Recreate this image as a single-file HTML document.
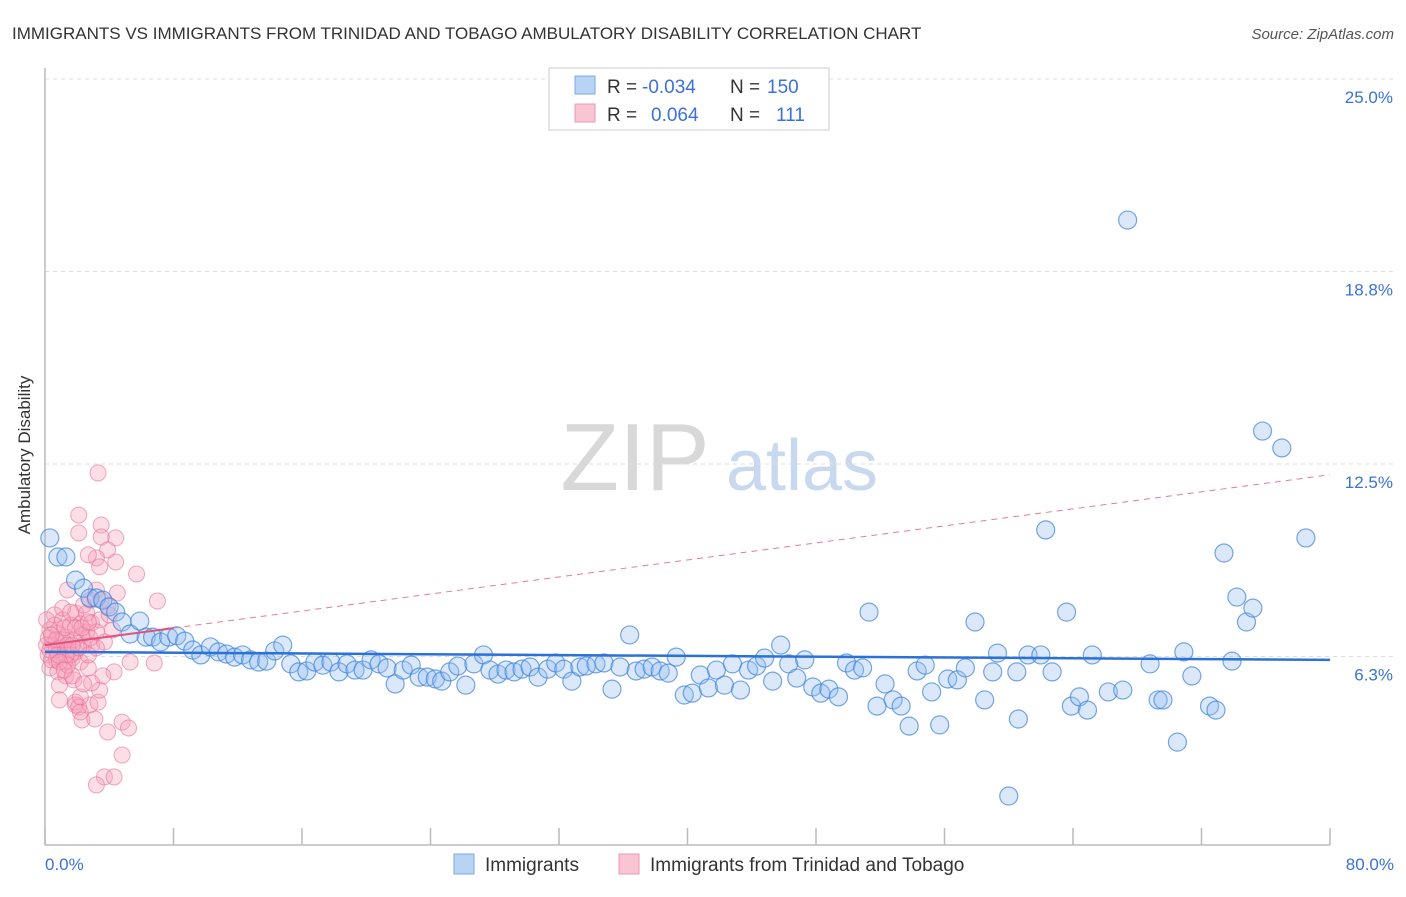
<!DOCTYPE html>
<html><head><meta charset="utf-8"><style>
body{margin:0;background:#fff;font-family:"Liberation Sans",sans-serif;}
svg text{font-family:"Liberation Sans",sans-serif;}
</style></head><body>
<svg id="chart" width="1406" height="892" viewBox="0 0 1406 892">
<text x="12" y="39" font-size="17" fill="#333">IMMIGRANTS VS IMMIGRANTS FROM TRINIDAD AND TOBAGO AMBULATORY DISABILITY CORRELATION CHART</text>
<text x="1394" y="39" font-size="15" fill="#555" font-style="italic" text-anchor="end">Source: ZipAtlas.com</text>
<g>
<text x="635" y="490" font-size="96" fill="#d8d8d8" text-anchor="middle" font-family="Liberation Serif, serif">ZIP</text>
<text x="802" y="490" font-size="72" fill="#c8d8ee" text-anchor="middle">atlas</text>
</g>
<g id="grid"></g>
<line x1="45" y1="68" x2="45" y2="845" stroke="#bbb" stroke-width="1.5"/>
<line x1="45" y1="845" x2="1330" y2="845" stroke="#bbb" stroke-width="1.5"/>
<g id="xticks"></g>
<text x="30" y="455" font-size="17" fill="#333" text-anchor="middle" transform="rotate(-90 30 455)">Ambulatory Disability</text>
<text x="45" y="870" font-size="17" fill="#3a72d8">0.0%</text>
<text x="1394" y="870" font-size="17" fill="#3a72d8" text-anchor="end">80.0%</text>
<g id="pink"></g>
<g id="blue"></g>
<g id="trends"></g>
<g>
<rect x="549" y="68" width="280" height="62" fill="#fff" stroke="#ccc"/>
<rect x="575" y="76" width="20" height="18" fill="#b9d3f5" stroke="#7aa7e6"/>
<rect x="575" y="104" width="20" height="18" fill="#f9c4d3" stroke="#ef95b0"/>
<text x="607" y="93" font-size="19" fill="#333">R =</text>
<text x="642" y="93" font-size="19" fill="#3a72d8">-0.034</text>
<text x="730" y="93" font-size="19" fill="#333">N =</text>
<text x="767" y="93" font-size="19" fill="#3a72d8">150</text>
<text x="607" y="121" font-size="19" fill="#333">R =</text>
<text x="651" y="121" font-size="19" fill="#3a72d8">0.064</text>
<text x="730" y="121" font-size="19" fill="#333">N =</text>
<text x="776" y="121" font-size="19" fill="#3a72d8">111</text>
</g>
<g>
<rect x="454" y="854" width="20" height="20" fill="#b9d3f5" stroke="#7aa7e6"/>
<text x="485" y="871" font-size="19" fill="#333">Immigrants</text>
<rect x="619" y="854" width="20" height="20" fill="#f9c4d3" stroke="#ef95b0"/>
<text x="650" y="871" font-size="19" fill="#333">Immigrants from Trinidad and Tobago</text>
</g>
</svg>
<script>
const yTicks=[25.0,18.75,12.5,6.25];
const yTickLabels=["25.0%","18.8%","12.5%","6.3%"];
const xTicks=[0,8,16,24,32,40,48,56,64,72,80];
const blueX=[0.3,0.8,1.3,1.9,2.4,2.8,3.2,3.6,4.0,4.4,4.8,5.3,5.9,6.3,6.7,7.2,7.7,8.2,8.7,9.2,9.7,10.3,10.8,11.3,11.8,12.3,12.8,13.3,13.8,14.3,14.8,15.3,15.8,16.3,16.8,17.3,17.8,18.3,18.8,19.3,19.8,20.3,20.8,21.3,21.8,22.3,22.8,23.3,23.8,24.3,24.7,25.2,25.7,26.2,26.7,27.3,27.7,28.2,28.7,29.2,29.7,30.2,30.7,31.3,31.8,32.3,32.8,33.3,33.7,34.3,34.8,35.3,35.8,36.4,36.8,37.3,37.8,38.3,38.8,39.3,39.8,40.3,40.8,41.3,41.8,42.3,42.8,43.3,43.8,44.3,44.8,45.3,45.8,46.3,46.8,47.3,47.8,48.3,48.8,49.4,49.9,50.4,50.9,51.3,51.8,52.3,52.8,53.3,53.8,54.3,54.8,55.2,55.7,56.2,56.8,57.3,57.9,58.5,59.0,59.3,60.0,60.5,60.6,61.2,62.0,62.3,62.7,63.6,63.9,64.4,64.9,65.2,66.2,67.1,67.4,68.8,69.3,69.6,70.5,70.9,71.4,72.5,72.9,73.4,73.9,74.2,74.8,75.2,75.8,77.0,78.5];
const blueY=[10.10,9.48,9.48,8.73,8.47,8.15,8.15,8.08,7.86,7.69,7.37,6.98,7.40,6.88,6.88,6.72,6.88,6.92,6.75,6.46,6.30,6.56,6.40,6.33,6.23,6.30,6.14,6.07,6.10,6.43,6.62,6.01,5.75,5.78,6.07,5.97,6.07,5.75,6.01,5.81,5.81,6.14,6.01,5.88,5.36,5.81,5.97,5.58,5.58,5.52,5.45,5.75,5.94,5.32,6.01,6.30,5.81,5.68,5.81,5.75,5.84,5.91,5.58,5.84,6.04,5.84,5.45,5.91,5.94,6.01,6.04,5.19,5.91,6.95,5.78,5.84,5.91,5.78,5.71,6.23,5.00,5.06,5.65,5.23,5.81,5.32,6.01,5.16,5.81,5.94,6.20,5.45,6.62,6.01,5.55,6.14,5.26,5.06,5.19,4.94,6.04,5.81,5.88,7.69,4.64,5.36,4.84,4.64,3.99,5.78,5.97,5.10,4.03,5.52,5.49,5.88,7.37,4.84,5.75,6.36,1.72,5.75,4.22,6.30,6.30,10.36,5.75,7.69,4.64,4.94,4.51,6.30,5.10,5.16,20.42,6.01,4.84,4.84,3.47,6.40,5.62,4.64,4.51,9.61,6.10,8.18,7.37,7.82,13.57,13.02,10.10];
const pinkX=[3.3,2.1,2.1,3.5,4.4,3.5,3.9,4.4,3.2,3.4,2.7,5.7,1.4,3.2,3.5,4.5,7.0,1.9,2.6,3.9,2.2,2.9,3.4,4.2,0.6,1.1,1.6,0.3,0.8,1.3,1.8,0.4,0.9,1.4,1.9,2.4,2.9,0.2,0.7,1.2,1.7,2.2,2.7,0.3,0.8,1.3,1.8,0.9,5.3,6.8,4.3,1.6,1.1,0.6,2.3,2.8,2.4,3.7,3.2,2.6,0.2,0.4,0.9,1.9,1.9,2.1,2.2,2.3,2.8,3.3,3.4,3.6,2.9,3.1,3.9,4.8,5.2,4.8,3.7,4.3,3.2,2.2,1.4,0.1,0.1,1.2,0.7,1.1,1.6,1.7,2.4,1.3,1.9,0.8,0.3,2.7,2.8,0.7,1.4,2.1,3.2,4.0,0.9,1.7,2.3,0.4,1.2,2.7];
const pinkY=[12.21,10.84,10.26,10.52,10.10,10.13,9.71,9.32,9.45,9.16,9.55,8.93,8.41,8.41,8.08,8.31,8.05,7.66,7.66,7.89,7.31,7.34,7.44,7.11,7.60,7.44,7.27,7.11,7.01,6.88,6.79,6.62,6.53,6.46,6.40,6.62,6.62,6.30,6.14,6.07,6.20,6.07,5.88,5.88,5.75,5.62,5.49,5.32,6.07,6.04,5.75,6.30,6.79,7.27,6.95,8.08,7.92,6.72,6.53,7.05,6.85,6.14,4.84,4.77,4.68,4.61,4.45,4.19,4.68,4.77,5.16,5.62,5.39,4.22,3.80,4.12,3.93,3.05,2.34,2.34,2.08,4.94,5.97,7.44,6.62,7.18,6.46,7.82,7.69,5.62,5.36,6.30,7.18,6.30,6.46,6.30,6.85,6.79,6.62,6.53,7.05,7.60,6.07,6.62,7.18,6.95,5.81,7.37];
const blueTrend=[6.40,6.14];
const pinkTrend=[6.62,12.15];
const pinkSolidEnd=8;
const NS="http://www.w3.org/2000/svg";
const X0=45,X1=1330,Y0=849,PX=30.8;
function sx(v){return X0+(v/80)*(X1-X0);}
function sy(v){return Y0-v*PX;}
function mk(tag,attrs,parent){const e=document.createElementNS(NS,tag);for(const k in attrs)e.setAttribute(k,attrs[k]);parent.appendChild(e);return e;}
const grid=document.getElementById('grid');
yTicks.forEach((t,i)=>{
 const l=mk('line',{x1:45,x2:1394,y1:sy(t),y2:sy(t),stroke:'#ddd','stroke-dasharray':'4,4'},grid);
 
 
 const tx=mk('text',{x:1393,y:sy(t)+24,'font-size':17,fill:'#3a72d8','text-anchor':'end'},grid);
 tx.textContent=yTickLabels[i];
 
 
});
const xt=document.getElementById('xticks');
xTicks.forEach(t=>{
 const l=mk('line',{x1:sx(t),x2:sx(t),y1:828,y2:845,stroke:'#bbb','stroke-width':1.5},xt);
 
 
});
const pg=document.getElementById('pink');
pinkX.forEach((x,i)=>{
 const c=mk('circle',{cx:sx(x),cy:sy(pinkY[i]),r:8,fill:'rgba(246,160,185,0.35)',stroke:'rgba(232,110,150,0.6)','stroke-width':1},pg);
 
 
});
const bg=document.getElementById('blue');
blueX.forEach((x,i)=>{
 const c=mk('circle',{cx:sx(x),cy:sy(blueY[i]),r:9,fill:'rgba(150,190,240,0.35)',stroke:'rgba(60,130,220,0.7)','stroke-width':1.2},bg);
 
 
});
const tg=document.getElementById('trends');
const pAt=v=>pinkTrend[0]+(pinkTrend[1]-pinkTrend[0])*v/80;
const pd=mk('line',{x1:sx(pinkSolidEnd),y1:sy(pAt(pinkSolidEnd)),x2:sx(80),y2:sy(pinkTrend[1]),stroke:'#e8799c','stroke-width':1,'stroke-dasharray':'6,5'},tg);


const ps=mk('line',{x1:sx(0),y1:sy(pinkTrend[0]),x2:sx(pinkSolidEnd),y2:sy(pAt(pinkSolidEnd)),stroke:'#e0517e','stroke-width':2},tg);


const bl=mk('line',{x1:sx(0),y1:sy(blueTrend[0]),x2:sx(80),y2:sy(blueTrend[1]),stroke:'#2a72d8','stroke-width':2.5},tg);


</script>
</body></html>
